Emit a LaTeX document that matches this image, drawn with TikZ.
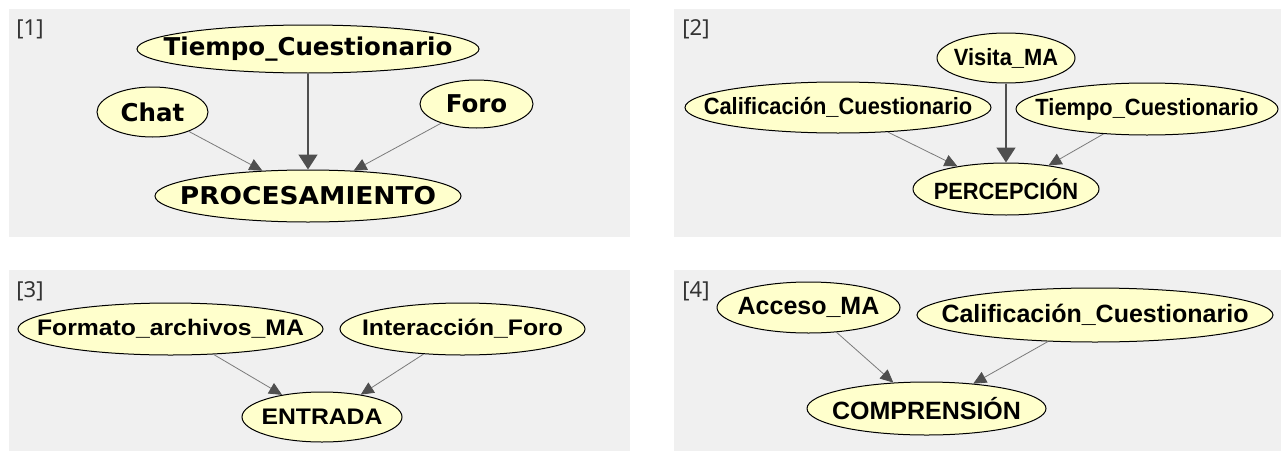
\documentclass[tikz,border=0pt]{standalone}
\usepackage{fontspec}
\usepackage{graphicx}
\usetikzlibrary{shapes.geometric,arrows.meta}
\newfontfamily\fontA{DejaVu Sans}
\newfontfamily\fontB{Liberation Sans}
\newfontfamily\fontL{Noto Sans}
\definecolor{panelgray}{HTML}{F0F0F0}
\definecolor{nodefill}{HTML}{FFFFCC}
\definecolor{edgegray}{HTML}{7A7A7A}
\definecolor{tipgray}{HTML}{4F4F4F}
\definecolor{labgray}{HTML}{333333}
\newcommand{\tx}[1]{\makebox[0pt]{#1}}
\newcommand{\txs}[2]{\makebox[0pt]{\scalebox{#1}[1]{#2}}}
\tikzset{
  ell/.style={ellipse, draw=black, line width=1pt, fill=nodefill, inner sep=0pt},
  pone/.style={ell, font=\fontA\bfseries\fontsize{24.5}{28}\selectfont},
  ptwo/.style={ell, font=\fontB\bfseries\fontsize{23.5}{27}\selectfont},
  pthree/.style={ell, font=\fontB\bfseries\fontsize{22.5}{26}\selectfont},
  pfour/.style={ell, font=\fontB\bfseries\fontsize{25}{29}\selectfont},
  edge/.style={draw=edgegray, line width=0.8pt, -{Triangle[length=13pt,width=12pt,color=tipgray]}},
  edgebold/.style={draw=tipgray, line width=1.6pt, -{Triangle[length=15pt,width=19pt]}},
  panel/.style={fill=panelgray, draw=none},
  lbl/.style={font=\fontL\fontsize{22}{25}\selectfont, text=labgray, inner sep=0pt}
}
\begin{document}
\begin{tikzpicture}[x=1pt,y=-1pt]
\useasboundingbox (0,0) rectangle (1281,455);
\fill[white] (0,0) rectangle (1281,455);
% panels
\fill[panel] (9,9) rectangle (630,237);
\fill[panel] (674,9) rectangle (1281,237);
\fill[panel] (9,270) rectangle (630,451);
\fill[panel] (674,270) rectangle (1281,451);
% labels
\node[lbl] (l1) at (30,29) {[1]};
\node[lbl] (l2) at (696,29) {[2]};
\node[lbl] (l3) at (30,291) {[3]};
\node[lbl] (l4) at (696,291) {[4]};
% panel 1
\node[pone, minimum width=342pt, minimum height=48pt] (tc1) at (308,49) {\tx{Tiempo\_Cuestionario}};
\node[pone, minimum width=111pt, minimum height=50pt] (chat) at (152.5,112) {\tx{Chat}};
\node[pone, minimum width=113pt, minimum height=48pt] (foro) at (476.5,104) {\tx{Foro}};
\node[pone, minimum width=306pt, minimum height=52pt] (proc) at (308,196) {\txs{1.08}{PROCESAMIENTO}};
\draw[edge] (chat) -- (proc.151.1);
\draw[edgebold] (tc1) -- (proc.north);
\draw[edge] (foro) -- (proc.29.5);
% panel 2
\node[ptwo, minimum width=138pt, minimum height=50pt] (visita) at (1006,58) {\txs{0.93}{Visita\_MA}};
\node[ptwo, minimum width=306pt, minimum height=51pt] (calif2) at (838,107.5) {\txs{0.93}{Calificación\_Cuestionario}};
\node[ptwo, minimum width=262pt, minimum height=52pt] (tc2) at (1147,109) {\txs{0.93}{Tiempo\_Cuestionario}};
\node[ptwo, minimum width=186pt, minimum height=52pt] (perc) at (1006,189) {\txs{0.93}{PERCEPCIÓN}};
\draw[edge] (calif2) -- (perc.155.1);
\draw[edgebold] (visita) -- (perc.north);
\draw[edge] (tc2) -- (perc.29.6);
% panel 3
\node[pthree, minimum width=305pt, minimum height=52pt] (formato) at (170.5,329) {\txs{1.1}{Formato\_archivos\_MA}};
\node[pthree, minimum width=245pt, minimum height=52pt] (inter) at (462.5,329) {\txs{1.1}{Interacción\_Foro}};
\node[pthree, minimum width=160pt, minimum height=50pt] (entrada) at (322,417) {\txs{1.1}{ENTRADA}};
\draw[edge] (formato) -- (entrada.151.6);
\draw[edge] (inter) -- (entrada.30.1);
% panel 4
\node[pfour, minimum width=183pt, minimum height=51pt] (acceso) at (808.5,307.5) {\tx{Acceso\_MA}};
\node[pfour, minimum width=356pt, minimum height=54pt] (calif4) at (1095,315) {\tx{Calificación\_Cuestionario}};
\node[pfour, minimum width=239pt, minimum height=53pt] (compr) at (926.5,408.5) {\tx{COMPRENSIÓN}};
\draw[edge] (acceso) -- (compr.142.8);
\draw[edge] (calif4) -- (compr.28.9);
\end{tikzpicture}
\end{document}
